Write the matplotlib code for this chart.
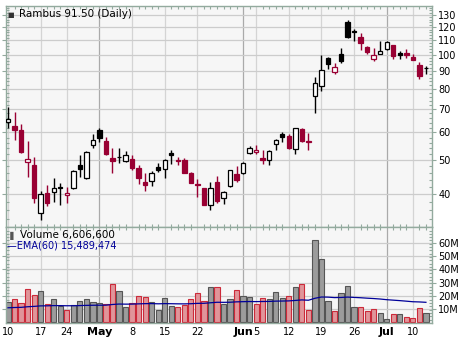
import numpy as np
import pandas as pd
import matplotlib
matplotlib.use("Agg")
import matplotlib.pyplot as plt
from matplotlib.patches import Rectangle
from matplotlib.ticker import FixedLocator, NullFormatter

# trading days shown, Apr 10 - Jul 12 2000
holidays = ["2000-04-21", "2000-05-29", "2000-07-04"]
dates = pd.bdate_range("2000-04-10", "2000-07-12")
dates = dates[~dates.isin(pd.to_datetime(holidays))]

opens = [64.2, 62.7, 61.1, 49.4, 48.5, 35.3, 40.2, 40.5, 41.9, 39.7,
         41.6, 48.5, 44.4, 55.2, 61.0, 56.8, 50.8, 51.1, 49.7, 50.4,
         47.5, 43.4, 43.5, 47.8, 47.1, 52.5, 50.0, 50.1, 45.8, 42.8,
         41.6, 37.3, 43.3, 38.9, 42.1, 45.6, 45.8, 52.5, 52.7, 50.8,
         50.0, 55.5, 59.3, 58.5, 53.8, 61.3, 56.7, 76.2, 81.4, 97.9,
         89.6, 100.5, 124.3, 117.1, 112.6, 105.2, 97.6, 100.7, 104.2, 106.8,
         101.1, 101.2, 98.9, 93.6, 92.0]
highs = [71.0, 68.7, 63.5, 56.9, 51.1, 40.8, 42.4, 44.5, 43.0, 42.0,
         46.9, 51.7, 53.0, 59.3, 62.0, 58.3, 54.1, 54.1, 53.2, 51.7,
         48.5, 46.0, 46.5, 49.1, 50.5, 53.5, 50.9, 50.6, 46.3, 44.2,
         41.7, 43.3, 45.1, 40.8, 46.9, 48.1, 49.4, 55.0, 55.3, 53.4,
         53.4, 57.6, 60.2, 59.3, 61.7, 62.0, 59.8, 86.5, 100.0, 98.7,
         94.7, 104.7, 125.9, 118.9, 115.4, 106.1, 104.7, 109.9, 109.9, 106.8,
         102.9, 103.8, 100.9, 95.3, 93.0]
lows = [62.0, 57.0, 52.4, 44.9, 37.8, 33.7, 37.0, 38.0, 37.3, 37.8,
        41.3, 44.9, 44.3, 54.3, 56.5, 51.7, 45.8, 49.2, 49.4, 46.8,
        42.6, 40.8, 42.3, 46.4, 44.4, 48.7, 48.5, 45.9, 42.9, 39.3,
        37.2, 36.0, 37.6, 37.4, 41.9, 43.4, 45.6, 52.2, 52.0, 48.7,
        48.3, 53.6, 56.2, 53.8, 52.2, 56.5, 53.6, 68.4, 79.1, 91.4,
        88.2, 94.7, 112.1, 109.4, 103.6, 100.7, 96.3, 100.5, 103.1, 97.6,
        97.2, 98.2, 96.6, 85.6, 88.2]
closes = [65.5, 61.1, 52.9, 50.4, 38.9, 40.0, 37.8, 41.6, 41.7, 40.2,
          46.5, 47.3, 52.6, 57.0, 57.8, 52.0, 49.7, 50.9, 51.8, 47.4,
          44.4, 42.4, 46.0, 47.0, 50.0, 51.6, 49.8, 46.1, 43.1, 42.5,
          37.3, 41.7, 38.1, 40.6, 46.8, 43.8, 49.0, 54.1, 53.4, 50.1,
          53.2, 57.0, 58.2, 54.3, 61.7, 56.9, 56.4, 83.0, 90.4, 94.1,
          92.4, 96.1, 112.8, 116.3, 108.0, 101.8, 100.2, 102.5, 108.9, 99.3,
          100.2, 100.0, 96.6, 86.9, 91.5]
# volume in millions
volume = [15.3, 17.3, 14.5, 25.2, 20.4, 23.6, 13.8, 17.3, 12.3, 9.2,
          13.0, 16.1, 17.3, 15.5, 14.3, 13.5, 28.9, 23.6, 11.3, 14.5,
          19.8, 18.8, 15.3, 9.2, 18.1, 12.0, 11.3, 13.0, 17.6, 21.9,
          16.1, 26.4, 26.4, 13.5, 17.3, 24.2, 19.8, 18.8, 13.8, 18.1,
          17.3, 22.6, 18.1, 19.6, 26.4, 28.9, 9.2, 62.0, 47.6, 16.1,
          8.5, 22.1, 27.2, 11.3, 11.3, 8.5, 9.8, 6.7, 2.4, 6.0,
          6.0, 3.7, 3.0, 10.8, 6.6066]
ema_seed = 10.8
ema_label = "15,489,474"

price_ticks = [40, 50, 60, 70, 80, 90, 100, 110, 120, 130]
vol_ticks = [10, 20, 30, 40, 50, 60]
tick_dates = ["2000-04-10", "2000-04-17", "2000-04-24", "2000-05-01", "2000-05-08",
              "2000-05-15", "2000-05-22", "2000-06-01", "2000-06-05", "2000-06-12",
              "2000-06-19", "2000-06-26", "2000-07-03", "2000-07-10"]
tick_labels = ["10", "17", "24", "May", "8", "15", "22", "Jun", "5", "12",
               "19", "26", "Jul", "10"]
months = ["May", "Jun", "Jul"]

RED = "#990033"
SPINE = "#93aa9e"
BG = "#f6f6f6"

n = len(closes)
x = np.arange(n)
tick_pos = [dates.get_loc(pd.Timestamp(d)) for d in tick_dates]
vol = np.array(volume)
ema = pd.Series(np.r_[ema_seed, vol]).ewm(span=60, adjust=False).mean().values[1:]

fig = plt.figure(figsize=(4.6, 3.4), dpi=100)
axp = fig.add_axes([6/460, 113/340, 426/460, 221/340])
axv = fig.add_axes([6/460, 17/340, 426/460, 96/340], sharex=axp)

for ax in (axp, axv):
    ax.set_facecolor(BG)
    for s in ax.spines.values():
        s.set_color(SPINE)
        s.set_linewidth(1.0)
    ax.set_xlim(-0.31, 64.93)
    ax.xaxis.set_major_locator(FixedLocator(tick_pos))
    ax.xaxis.set_minor_locator(FixedLocator(x))
    ax.tick_params(axis="x", which="both", direction="in", top=True, bottom=True,
                   color=SPINE, length=2, width=0.8)
    ax.tick_params(axis="x", which="major", length=0)
    for p, lab in zip(tick_pos, tick_labels):
        c = "#aaaaaa" if lab in months else "#d4d4d4"
        ax.axvline(p, color=c, lw=0.9, zorder=0)
    ax.yaxis.tick_right()
    ax.tick_params(axis="y", which="major", right=True, left=True, direction="out",
                   length=3, width=0.8, color=SPINE, labelsize=7, pad=1.5)
    ax.tick_params(axis="y", which="minor", right=True, left=True, direction="in",
                   length=2, width=0.8, color=SPINE)

# price panel
axp.set_yscale("log")
axp.set_ylim(32.2, 138)
axp.yaxis.set_major_locator(FixedLocator(price_ticks))
axp.yaxis.set_major_formatter(plt.FixedFormatter([str(t) for t in price_ticks]))
axp.yaxis.set_minor_locator(FixedLocator(np.arange(34, 138, 2)))
axp.yaxis.set_minor_formatter(NullFormatter())
for t in price_ticks:
    axp.axhline(t, color="#cccccc", lw=0.9, zorder=0)
plt.setp(axp.get_xticklabels(), visible=False)

w = 0.68
for i in x:
    o, h, l, c = opens[i], highs[i], lows[i], closes[i]
    up = i == 0 or c >= closes[i - 1]
    col = "black" if up else RED
    axp.vlines(i, l, h, color=col, lw=1.0, zorder=2)
    lo, hi = min(o, c), max(o, c)
    face = "white" if c > o else col
    axp.add_patch(Rectangle((i - w / 2, lo), w, hi - lo, facecolor=face,
                            edgecolor=col, lw=0.9, zorder=3))

axp.text(0.031, 0.949, f"Rambus {closes[-1]:.2f} (Daily)", transform=axp.transAxes,
         fontsize=7.5, va="baseline", ha="left")
axp.text(0.004, 0.949, "\u25a0", transform=axp.transAxes, fontsize=5,
         va="baseline", ha="left", color="#333333")

# volume panel
vcols = ["#9c9c9c" if (i == 0 or closes[i] >= closes[i - 1]) else "#e0959a" for i in x]
ecols = ["#555555" if (i == 0 or closes[i] >= closes[i - 1]) else "#cc2a3a" for i in x]
axv.bar(x, vol, width=0.8, color=vcols, edgecolor=ecols, lw=0.8, zorder=2)
axv.plot(x, ema, color="#000099", lw=0.9, zorder=3)
axv.set_ylim(-0.6, 72.2)
axv.yaxis.set_major_locator(FixedLocator(vol_ticks))
axv.yaxis.set_major_formatter(plt.FixedFormatter([f"{t}M" for t in vol_ticks]))
axv.yaxis.set_minor_locator(FixedLocator(np.arange(2, 72, 2.5)))
for t in vol_ticks:
    axv.axhline(t, color="#cccccc", lw=0.9, zorder=0)
axv.set_xticklabels(tick_labels)
axv.tick_params(axis="x", which="major", labelsize=7, pad=3)
for lab in axv.get_xticklabels():
    if lab.get_text() in months:
        lab.set_fontweight("bold")
        lab.set_fontsize(8)

axv.text(0.033, 0.889, f"Volume {vol[-1] * 1e6:,.0f}",
         transform=axv.transAxes, fontsize=7.5, va="baseline")
axv.text(0.003, 0.889, "\u2590", transform=axv.transAxes, fontsize=6,
         va="baseline", color="#555555")
axv.text(0.003, 0.771, "\u2014EMA(60) " + ema_label, transform=axv.transAxes,
         fontsize=7, va="baseline", color="#000099")

fig.savefig("out.png", dpi=100)
